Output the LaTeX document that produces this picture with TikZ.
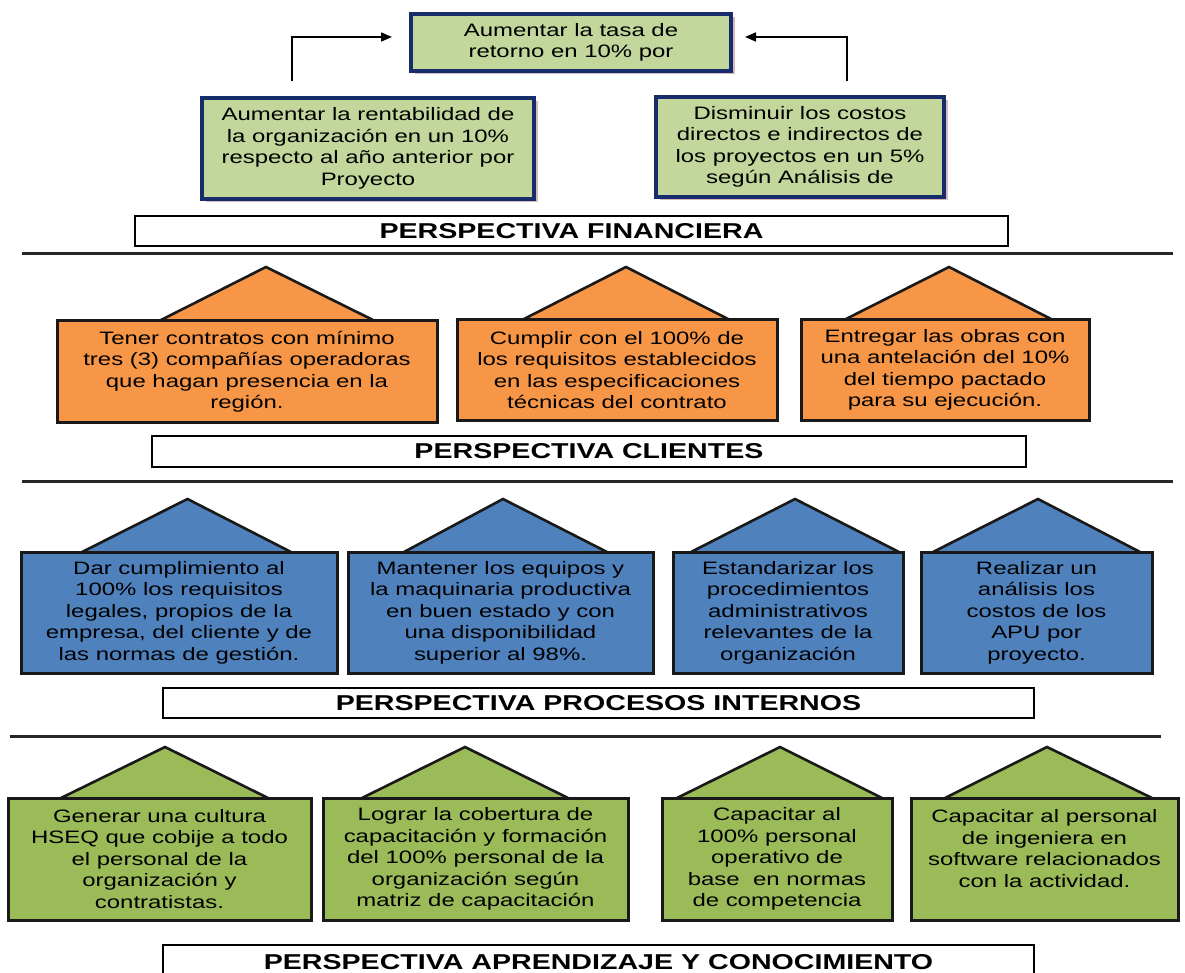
\documentclass[tikz,border=0pt]{standalone}
\usepackage{fontspec}
\setmainfont{Liberation Sans}[FakeStretch=1.33]
\usetikzlibrary{arrows.meta,shadows}
\definecolor{orangec}{HTML}{F79646}
\definecolor{bluec}{HTML}{4F81BD}
\definecolor{greenc}{HTML}{9BBB59}
\definecolor{lgreenc}{HTML}{C3D69B}
\definecolor{navyc}{HTML}{172C6B}
\definecolor{shadowc}{HTML}{D7B8BC}
\newcommand{\bodyf}{\fontsize{18}{21.5}\selectfont}
\newcommand{\titlef}{\fontsize{21.5}{24}\selectfont\bfseries}
\tikzset{
  finbox/.style={draw=navyc, line width=3.8pt, fill=lgreenc, inner sep=0pt, align=center, font=\bodyf,
    general shadow={fill=shadowc, shadow xshift=3.5pt, shadow yshift=-3.5pt}},
  housebox/.style={draw=black!90, line width=3pt, inner sep=0pt, align=center, font=\bodyf},
  roof/.style={draw=black!90, line width=2.6pt, line join=miter},
  titlebox/.style={draw=black, line width=1.6pt, fill=white, inner sep=0pt, font=\titlef},
  rule/.style={draw=black!85, line width=3pt},
  arr/.style={line width=1.6pt, -{Triangle[length=11pt,width=9pt]}}
}
\begin{document}
\begin{tikzpicture}[x=1pt,y=-1pt]
\useasboundingbox (0,0) rectangle (1185,973);
\clip (0,0) rectangle (1185,973);

% ---------------- Financiera ----------------
\node[finbox, minimum width=320pt, minimum height=57pt] (top) at (571,42.5)
  {Aumentar la tasa de\\retorno en 10\% por};
\node[finbox, minimum width=332pt, minimum height=101pt] (f1) at (368,148.5)
  {Aumentar la rentabilidad de\\la organización en un 10\%\\respecto al año anterior por\\Proyecto};
\node[finbox, minimum width=288pt, minimum height=100pt] (f2) at (800,147)
  {Disminuir los costos\\directos e indirectos de\\los proyectos en un 5\%\\según Análisis de};
\coordinate (la) at (292,81);
\coordinate (lt) at (392,37);
\coordinate (ra) at (847,81);
\coordinate (rt) at (745,37);
\draw[arr] (la) |- (lt);
\draw[arr] (ra) |- (rt);
\node[titlebox, minimum width=873pt, minimum height=30pt] (tfin) at (571.5,231) {PERSPECTIVA FINANCIERA};
\coordinate (r1a) at (22,254);
\coordinate (r1b) at (1173,254);
\draw[rule] (r1a) -- (r1b);

% ---------------- Clientes ----------------
\filldraw[roof, fill=orangec] (159,321) -- (266,267) -- (375,321);
\filldraw[roof, fill=orangec] (522,320) -- (626,267) -- (730,320);
\filldraw[roof, fill=orangec] (844,320) -- (949,267) -- (1053,320);
\node[housebox, fill=orangec, minimum width=380pt, minimum height=101pt] (c1) at (247,371.5)
  {Tener contratos con mínimo\\tres (3) compañías operadoras\\que hagan presencia en la\\región.};
\node[housebox, fill=orangec, minimum width=320pt, minimum height=100pt] (c2) at (617,370)
  {Cumplir con el 100\% de\\los requisitos establecidos\\en las especificaciones\\técnicas del contrato};
\node[housebox, fill=orangec, minimum width=288pt, minimum height=100pt] (c3) at (945,370)
  {Entregar las obras con\\una antelación del 10\%\\del tiempo pactado\\para su ejecución.};
\node[titlebox, minimum width=874pt, minimum height=31pt] (tcli) at (589,451.5) {PERSPECTIVA CLIENTES};
\coordinate (r2a) at (22,481);
\coordinate (r2b) at (1173,481);
\draw[rule] (r2a) -- (r2b);

% ---------------- Procesos internos ----------------
\filldraw[roof, fill=bluec] (82,552) -- (187.5,499) -- (291,552);
\filldraw[roof, fill=bluec] (404,552) -- (503,499) -- (607,552);
\filldraw[roof, fill=bluec] (691,552) -- (795,499) -- (899,552);
\filldraw[roof, fill=bluec] (933,552) -- (1038,499) -- (1140,552);
\node[housebox, fill=bluec, minimum width=316pt, minimum height=121pt] (p1) at (179,612.5)
  {Dar cumplimiento al\\100\% los requisitos\\legales, propios de la\\empresa, del cliente y de\\las normas de gestión.};
\node[housebox, fill=bluec, minimum width=305pt, minimum height=121pt] (p2) at (500.5,612.5)
  {Mantener los equipos y\\la maquinaria productiva\\en buen estado y con\\una disponibilidad\\superior al 98\%.};
\node[housebox, fill=bluec, minimum width=230pt, minimum height=121pt] (p3) at (788,612.5)
  {Estandarizar los\\procedimientos\\administrativos\\relevantes de la\\organización};
\node[housebox, fill=bluec, minimum width=231pt, minimum height=121pt] (p4) at (1036.5,612.5)
  {Realizar un\\análisis los\\costos de los\\APU por\\proyecto.};
\node[titlebox, minimum width=871pt, minimum height=30pt] (tpro) at (598.5,703) {PERSPECTIVA PROCESOS INTERNOS};
\coordinate (r3a) at (10,736);
\coordinate (r3b) at (1161,736);
\draw[rule] (r3a) -- (r3b);

% ---------------- Aprendizaje ----------------
\filldraw[roof, fill=greenc] (61,798) -- (165,747) -- (268,798);
\filldraw[roof, fill=greenc] (362,798) -- (465,747) -- (568,798);
\filldraw[roof, fill=greenc] (677,798) -- (780,747) -- (882,798);
\filldraw[roof, fill=greenc] (945,798) -- (1047,747) -- (1152,798);
\node[housebox, fill=greenc, minimum width=303pt, minimum height=122pt] (a1) at (159.5,859)
  {Generar una cultura\\HSEQ que cobije a todo\\el personal de la\\organización y\\contratistas.};
\node[housebox, fill=greenc, minimum width=305pt, minimum height=122pt] (a2) at (475.5,859)
  {Lograr la cobertura de\\capacitación y formación\\del 100\% personal de la\\organización según\\matriz de capacitación};
\node[housebox, fill=greenc, minimum width=230pt, minimum height=122pt] (a3) at (777,859)
  {Capacitar al\\100\% personal\\operativo de\\base\ \ en normas\\de competencia};
\node[housebox, fill=greenc, minimum width=267pt, minimum height=122pt] (a4) at (1044.5,859)
  {Capacitar al personal\\de ingeniera en\\software relacionados\\con la actividad.\\\mbox{}};
\node[titlebox, minimum width=871pt, minimum height=34pt] (tapr) at (598.5,962) {PERSPECTIVA APRENDIZAJE Y CONOCIMIENTO};
\end{tikzpicture}
\end{document}
